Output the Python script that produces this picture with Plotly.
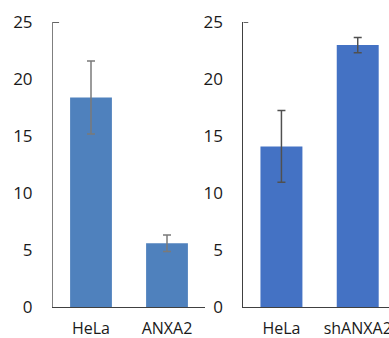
import plotly.graph_objects as go

# Data
left_categories = ["HeLa", "ANXA2"]
left_values = [18.4, 5.6]
left_errors = [3.2, 0.72]

right_categories = ["HeLa", "shANXA2"]
right_values = [14.1, 23.0]
right_errors = [3.15, 0.67]

y_ticks = [0, 5, 10, 15, 20, 25]

W, H = 389, 338
FONT = "Open Sans"

fig = go.Figure()
fig.add_trace(go.Bar(
    x=left_categories, y=left_values, xaxis="x", yaxis="y",
    marker=dict(color="#4F81BD", line=dict(width=0)),
    error_y=dict(type="data", array=left_errors, color="#7a7a7a", thickness=1.5, width=4),
    width=0.55, showlegend=False,
))
fig.add_trace(go.Bar(
    x=right_categories, y=right_values, xaxis="x2", yaxis="y2",
    marker=dict(color="#4472C4", line=dict(width=0)),
    error_y=dict(type="data", array=right_errors, color="#505050", thickness=1.5, width=4),
    width=0.55, showlegend=False,
))

y0_px, y25_px = 307, 22.3
ydom = [(H - y0_px) / H, (H - y25_px) / H]

axis_font = dict(family=FONT, size=17, color="#1a1a1a")
xlab_font = dict(family=FONT, size=16, color="#1a1a1a")

common = dict(showgrid=False, ticks="", automargin=False, fixedrange=True)

ymax = y_ticks[-1]

fig.update_layout(
    template="none",
    width=W, height=H,
    margin=dict(l=0, r=0, t=0, b=0),
    paper_bgcolor="white", plot_bgcolor="white",
    font=axis_font,
    xaxis=dict(domain=[53 / W, 205 / W], range=[-0.5, 1.5], showline=True,
               linecolor="#404040", linewidth=1, ticklabelstandoff=7,
               tickfont=xlab_font, **common),
    yaxis=dict(domain=ydom, range=[0, 25], tickvals=y_ticks, showline=True,
               linecolor="#7f7f7f", linewidth=1, zeroline=False,
               ticklabelstandoff=16, tickfont=axis_font, **common),
    xaxis2=dict(domain=[243.3 / W, 1], range=[-0.5, 1.41], showline=True,
                linecolor="#404040", linewidth=1, ticklabelstandoff=7,
                tickfont=xlab_font, anchor="y2", **common),
    yaxis2=dict(domain=ydom, range=[0, 25], tickvals=y_ticks, showline=True,
                linecolor="#404040", linewidth=1, zeroline=False,
                ticklabelstandoff=16, tickfont=axis_font, anchor="x2", **common),
    shapes=[
        dict(type="line", xref="x", yref="y", x0=-0.5, x1=-0.42, y0=ymax, y1=ymax,
             line=dict(color="#303030", width=1.2)),
        dict(type="line", xref="x2", yref="y2", x0=-0.5, x1=-0.435, y0=ymax, y1=ymax,
             line=dict(color="#303030", width=1.2)),
    ],
)

fig.write_html("out.html")
